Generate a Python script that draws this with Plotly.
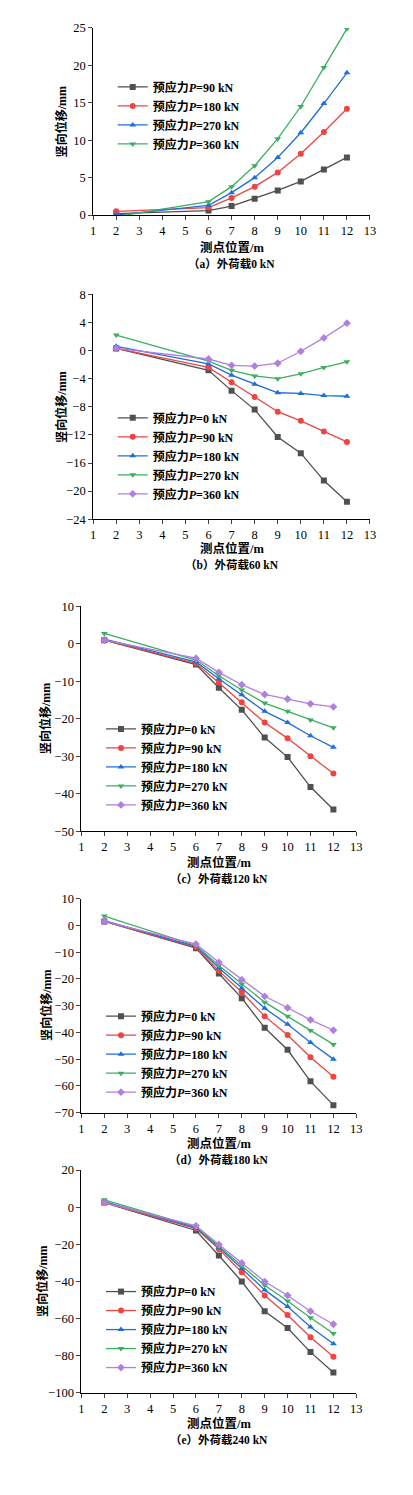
import plotly.graph_objects as go

W, H = 413, 1495
x_pts = [2, 6, 7, 8, 9, 10, 11, 12]

names_a = ["90", "180", "270", "360"]
a_vals = [
    [0.2, 0.6, 1.2, 2.2, 3.3, 4.5, 6.1, 7.7],
    [0.5, 1.0, 2.3, 3.8, 5.7, 8.2, 11.1, 14.2],
    [0.0, 1.3, 3.0, 5.0, 7.7, 11.0, 14.9, 19.0],
    [-0.2, 1.8, 3.8, 6.6, 10.2, 14.5, 19.7, 24.9],
]
names_b = ["0", "90", "180", "270", "360"]
b_vals = [
    [0.3, -2.8, -5.7, -8.4, -12.3, -14.6, -18.5, -21.5],
    [0.3, -2.4, -4.5, -6.6, -8.7, -10.0, -11.5, -13.0],
    [0.6, -1.9, -3.5, -4.8, -6.0, -6.1, -6.4, -6.5],
    [2.2, -1.5, -2.8, -3.6, -4.0, -3.3, -2.4, -1.6],
    [0.3, -1.2, -2.1, -2.2, -1.8, -0.1, 1.8, 3.9],
]
c_vals = [
    [1.0, -5.5, -11.7, -17.6, -25.0, -30.2, -38.2, -44.2],
    [1.0, -5.2, -10.4, -15.6, -21.0, -25.2, -30.0, -34.6],
    [1.3, -4.8, -9.3, -13.6, -18.0, -21.0, -24.5, -27.6],
    [2.8, -4.3, -8.5, -12.3, -15.8, -18.0, -20.3, -22.4],
    [1.0, -3.8, -7.6, -10.9, -13.5, -14.7, -16.0, -16.8],
]
d_vals = [
    [1.5, -8.5, -18.0, -27.2, -38.3, -46.5, -58.3, -67.2],
    [1.5, -8.2, -17.0, -25.0, -34.0, -41.0, -49.3, -56.6],
    [1.8, -7.8, -15.8, -23.5, -31.0, -37.0, -43.8, -50.0],
    [3.5, -7.5, -15.0, -22.0, -28.7, -34.0, -39.3, -44.5],
    [1.5, -7.0, -13.8, -20.3, -26.5, -30.8, -35.3, -39.2],
]
e_vals = [
    [2.5, -12.5, -26.0, -40.0, -56.0, -65.0, -78.0, -89.0],
    [2.5, -11.5, -22.5, -35.0, -47.5, -58.0, -70.0, -80.5],
    [3.0, -11.0, -21.5, -33.0, -44.5, -53.5, -64.5, -73.5],
    [4.0, -10.5, -21.0, -31.5, -42.0, -50.5, -59.5, -68.0],
    [2.5, -10.0, -20.0, -30.0, -40.0, -47.5, -56.0, -63.0],
]
captions = ["（a）外荷载0 kN", "（b）外荷载60 kN", "（c）外荷载120 kN",
            "（d）外荷载180 kN", "（e）外荷载240 kN"]

colors = {"0": "#505050", "90": "#ee4444", "180": "#1f6fdb", "270": "#3dae5f", "360": "#b07fe0"}
symbols = {"0": "square", "90": "circle", "180": "triangle-up", "270": "triangle-down", "360": "diamond"}
colors_a = dict(zip(names_a, ["#505050", "#ee4444", "#1f6fdb", "#3dae5f"]))
symbols_a = dict(zip(names_a, ["square", "circle", "triangle-up", "triangle-down"]))

# panel geometry (pixels): xl, xr, ytop, ybot, yrange, dtick, ytitle_x, xtitle_y, cap_y, legend(x,y)
panels = [
    (84, 367, 13, 202, [0, 25], 5, 52, 235, 251, (104, 58)),
    (84, 367, 282, 509, [-24, 8], 4, 52, 539, 555, (104, 392)),
    (72, 353, 597, 824, [-50, 10], 10, 36, 856, 872, (92, 706)),
    (72, 353, 892, 1108, [-70, 10], 10, 36, 1139, 1155, (92, 996)),
    (72, 353, 1166, 1391, [-100, 20], 20, 32, 1422, 1438, (92, 1274)),
]
data = [(names_a, a_vals), (names_b, b_vals), (names_b, c_vals), (names_b, d_vals), (names_b, e_vals)]

font_main = "Liberation Serif, Noto Sans CJK SC"
fig = go.Figure()
layout = {}
ann = []
for i, ((xl, xr, yt, yb, yr, dt, ytx, xty, capy, lg), (nms, vals)) in enumerate(zip(panels, data)):
    k = "" if i == 0 else str(i + 1)
    lgname = "legend" if i == 0 else f"legend{i+1}"
    cols = colors_a if i == 0 else colors
    syms = symbols_a if i == 0 else symbols
    for n, v in zip(nms, vals):
        fig.add_trace(go.Scatter(
            x=x_pts, y=v, mode="lines+markers", name=f"<b>预应力<i>P</i>={n} kN</b>",
            line=dict(color=cols[n], width=1.3),
            marker=dict(symbol=syms[n], size=6, color=cols[n]),
            xaxis="x" + k, yaxis="y" + k, legend=lgname))
    tf = dict(size=12.5, family=font_main, color="black")
    layout["xaxis" + k] = dict(domain=[xl / W, xr / W], range=[1, 13], dtick=1, anchor="y" + k,
                               showline=True, linecolor="black", ticks="outside", ticklen=4,
                               showgrid=False, zeroline=False, tickfont=tf)
    layout["yaxis" + k] = dict(domain=[1 - yb / H, 1 - yt / H], range=yr, dtick=dt, anchor="x" + k,
                               showline=True, linecolor="black", ticks="outside", ticklen=4,
                               showgrid=False, zeroline=False, tickfont=tf)
    layout[lgname] = dict(x=lg[0] / W, y=1 - lg[1] / H, xanchor="left", yanchor="top",
                          bgcolor="rgba(0,0,0,0)", font=dict(size=12, family=font_main, color="black"),
                          itemwidth=30, tracegroupgap=0)
    ann.append(dict(text="<b>竖向位移/mm</b>", x=ytx / W, y=1 - (yt + yb) / 2 / H, xref="paper", yref="paper",
                    xanchor="center", yanchor="middle",
                    textangle=-90, showarrow=False, font=dict(size=12, family=font_main)))
    ann.append(dict(text="<b>测点位置/m</b>", x=(xl + xr) / 2 / W, y=1 - xty / H, xref="paper", yref="paper",
                    xanchor="center", yanchor="middle",
                    showarrow=False, font=dict(size=12.5, family=font_main)))
    ann.append(dict(text="<b>" + captions[i] + "</b>", x=(xl + xr) / 2 / W, y=1 - capy / H,
                    xref="paper", yref="paper", xanchor="center", yanchor="middle",
                    showarrow=False, font=dict(size=11.5, family=font_main)))

fig.update_layout(**layout)
fig.update_layout(width=W, height=H, margin=dict(l=0, r=0, t=0, b=0),
                  paper_bgcolor="white", plot_bgcolor="white", annotations=ann,
                  font=dict(family=font_main, color="black"), showlegend=True)
fig.write_html("out.html")
